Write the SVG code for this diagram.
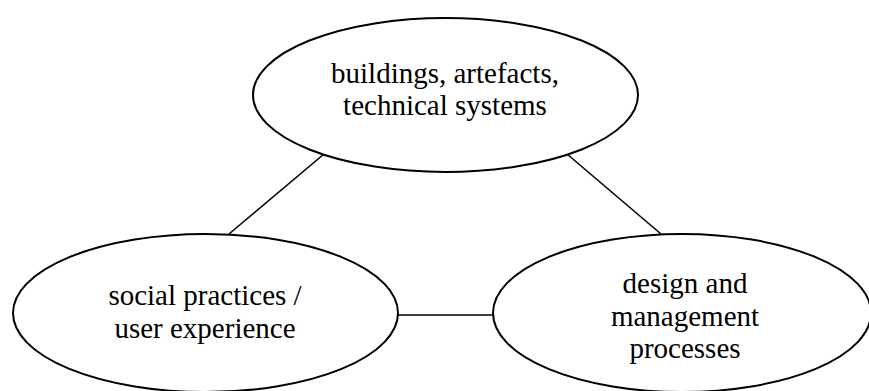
<svg xmlns="http://www.w3.org/2000/svg" width="869" height="391" viewBox="0 0 869 391">
<style>
.n{fill:#fff;stroke:#000;stroke-width:2}
.c{stroke:#000;stroke-width:1.6;fill:none}
.t{font-family:'Liberation Serif','Times New Roman',serif;font-size:29px;fill:#000;text-anchor:middle}
</style>
<rect width="869" height="391" fill="#fff"/>
<g id="connectors">
<line class="c" x1="324" y1="154" x2="229" y2="234"/>
<line class="c" x1="567" y1="154" x2="661" y2="234"/>
<line class="c" x1="398" y1="315" x2="493" y2="315"/>
</g>
<g id="top">
<ellipse class="n" cx="445.5" cy="95" rx="192.5" ry="77"/>
<text class="t" x="445" y="83">buildings, artefacts,</text>
<text class="t" x="445" y="115">technical systems</text>
</g>
<g id="left">
<ellipse class="n" cx="205.5" cy="313" rx="192.5" ry="79"/>
<text class="t" x="205" y="305">social practices /</text>
<text class="t" x="205" y="338">user experience</text>
</g>
<g id="right">
<ellipse class="n" cx="682" cy="313" rx="189" ry="79"/>
<text class="t" x="685" y="293">design and</text>
<text class="t" x="685" y="326">management</text>
<text class="t" x="685" y="358">processes</text>
</g>
</svg>
